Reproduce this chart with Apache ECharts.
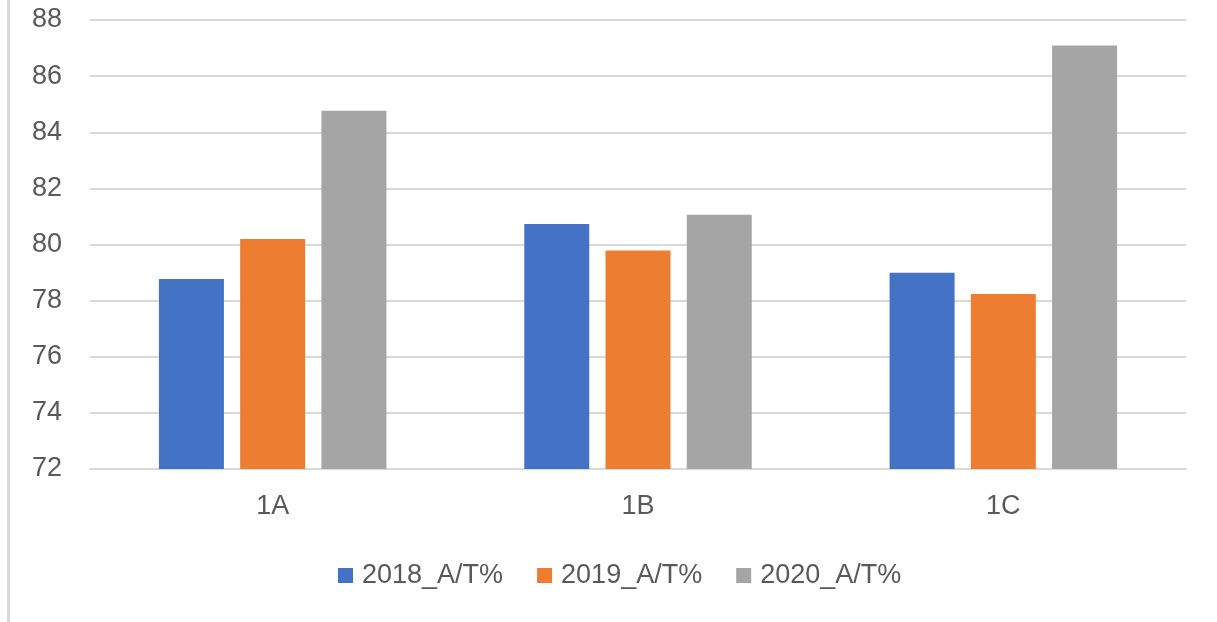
<!DOCTYPE html>
<html>
<head>
<meta charset="utf-8">
<script src="https://cdn.jsdelivr.net/npm/echarts@6/dist/echarts.min.js"></script>
<style>
  html, body { margin: 0; padding: 0; background: #fff; }
  #chart { width: 1217px; height: 622px; }
</style>
</head>
<body>
<div id="chart"></div>
<script>
// ========== 数据 ==========
const categories = ['1A', '1B', '1C'];
const seriesNames = ['2018_A/T%', '2019_A/T%', '2020_A/T%'];
const values2018 = [78.77, 80.73, 78.99];
const values2019 = [80.20, 79.79, 78.24];
const values2020 = [84.77, 81.06, 87.09];
const seriesColors = ['#4472C4', '#ED7D31', '#A5A5A5'];

const FONT = '"Liberation Sans", Arial, sans-serif';
const TEXT_COLOR = '#595959';

const chart = echarts.init(document.getElementById('chart'), null, { renderer: 'canvas' });

function makeBar(name, data, color) {
    return {
        name: name,
        type: 'bar',
        data: data,
        barWidth: 65,
        barGap: '25%',
        itemStyle: { color: color },
        emphasis: { disabled: true }
    };
}

const option = {
    animation: false,
    backgroundColor: '#fff',
    textStyle: { fontFamily: FONT },
    grid: { left: 90, right: 31, top: 20, bottom: 153 },
    legend: {
        top: 562,
        left: 338,
        padding: 0,
        itemWidth: 15,
        itemHeight: 15,
        itemGap: 34,
        icon: 'rect',
        textStyle: { color: TEXT_COLOR, fontSize: 27, fontFamily: FONT, padding: [0, 0, 0, 4] },
        data: seriesNames
    },
    xAxis: {
        type: 'category',
        data: categories,
        axisLine: { show: true, lineStyle: { color: '#d9d9d9', width: 2 } },
        axisTick: { show: false },
        axisLabel: { color: TEXT_COLOR, fontSize: 27, fontFamily: FONT, margin: 24 }
    },
    yAxis: {
        type: 'value',
        min: 72,
        max: 88,
        interval: 2,
        axisLine: { show: false },
        axisTick: { show: false },
        axisLabel: { color: TEXT_COLOR, fontSize: 27, fontFamily: FONT, margin: 28 },
        splitLine: { lineStyle: { color: '#d9d9d9', width: 2 } }
    },
    graphic: [{
        type: 'rect',
        left: 7,
        top: 0,
        shape: { width: 3, height: 622 },
        style: { fill: '#d9d9d9' },
        silent: true
    }],
    series: [
        makeBar(seriesNames[0], values2018, seriesColors[0]),
        makeBar(seriesNames[1], values2019, seriesColors[1]),
        makeBar(seriesNames[2], values2020, seriesColors[2])
    ]
};

chart.setOption(option);
</script>
</body>
</html>
